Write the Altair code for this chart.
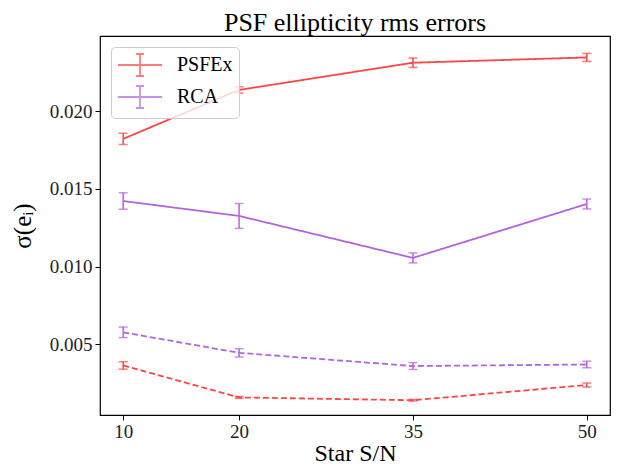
import altair as alt
import pandas as pd

sn = [10, 20, 35, 50]
psfex_hi = [0.01822, 0.02137, 0.02312, 0.02346]
psfex_hi_err = [0.00036, 0.00020, 0.00030, 0.00026]
rca_hi = [0.01422, 0.01326, 0.01056, 0.01403]
rca_hi_err = [0.00053, 0.00080, 0.00032, 0.00032]
rca_lo = [0.00577, 0.00445, 0.00360, 0.00370]
rca_lo_err = [0.00034, 0.00027, 0.00022, 0.00021]
psfex_lo = [0.00364, 0.00158, 0.00140, 0.00238]
psfex_lo_err = [0.00024, 0.00006, 0.00005, 0.00013]

series = [
    ("PSFEx", "solid", psfex_hi, psfex_hi_err),
    ("RCA", "solid", rca_hi, rca_hi_err),
    ("RCA", "dashed", rca_lo, rca_lo_err),
    ("PSFEx", "dashed", psfex_lo, psfex_lo_err),
]
rows = []
for method, kind, vals, errs in series:
    for s, v, e in zip(sn, vals, errs):
        rows.append({"sn": s, "value": v, "lo": v - e, "hi": v + e,
                     "method": method, "kind": kind, "sid": method + kind})
df = pd.DataFrame(rows)

FONT = "Liberation Serif"
xs = alt.Scale(domain=[8, 52], nice=False, zero=False)
ys = alt.Scale(domain=[0.00045, 0.02484], nice=False, zero=False)
cs = alt.Scale(domain=["PSFEx", "RCA"], range=["#ff4545", "#b462e0"])
ds = alt.Scale(domain=["solid", "dashed"], range=[[1, 0], [6, 3]])

legend_symbol = "M-1,0L3,0M1,-1L1,1M0.64,-1L1.36,-1M0.64,1L1.36,1"

color = alt.Color("method:N", scale=cs, sort=["PSFEx", "RCA"],
                  legend=alt.Legend(title=None, orient="top-left", offset=11,
                                    symbolType=legend_symbol, symbolSize=484,
                                    symbolStrokeWidth=1.8,
                                    symbolFillColor="transparent",
                                    labelOffset=36, labelFontSize=20,
                                    labelFont=FONT, labelColor="black",
                                    padding=6, rowPadding=2,
                                    fillColor="rgba(255,255,255,0.8)",
                                    strokeColor="#cccccc", cornerRadius=4))
X = alt.X("sn:Q", scale=xs,
          axis=alt.Axis(values=sn, title="Star S/N", format="d"))

base = alt.Chart(df)

lines = base.mark_line(strokeWidth=1.8).encode(
    x=X,
    y=alt.Y("value:Q", scale=ys,
            axis=alt.Axis(values=[0.005, 0.010, 0.015, 0.020], format=".3f",
                          title="σ(eᵢ)")),
    color=color,
    strokeDash=alt.StrokeDash("kind:N", scale=ds, legend=None),
    detail="sid:N",
)

bars = base.mark_rule(strokeWidth=1.5).encode(
    x=X,
    y=alt.Y("lo:Q", scale=ys),
    y2="hi:Q",
    color=color,
)
cap_lo = base.mark_tick(orient="horizontal", size=9, thickness=1.5).encode(
    x=X,
    y=alt.Y("lo:Q", scale=ys),
    color=color,
)
cap_hi = base.mark_tick(orient="horizontal", size=9, thickness=1.5).encode(
    x=X,
    y=alt.Y("hi:Q", scale=ys),
    color=color,
)

chart = alt.layer(bars, cap_lo, cap_hi, lines).properties(
    width=510, height=379,
    title=alt.TitleParams("PSF ellipticity rms errors", font=FONT, fontSize=26,
                          fontWeight="normal", color="black", offset=0),
    padding={"left": 2, "top": 2, "right": 5, "bottom": 0},
).configure_view(
    stroke="black", strokeWidth=1.2
).configure_axis(
    grid=False, domain=False, ticks=True, tickSize=5, tickColor="black",
    tickWidth=1, labelFont=FONT, labelFontSize=19, labelColor="#222",
    titleFont=FONT, titleFontSize=24, titleFontWeight="normal", titleColor="black",
    labelPadding=3,
).configure_axisY(titlePadding=14, titleFontSize=25).configure_axisX(titlePadding=0, labelPadding=2)

chart.save("out.html", embed_options={"renderer": "svg", "actions": False})
